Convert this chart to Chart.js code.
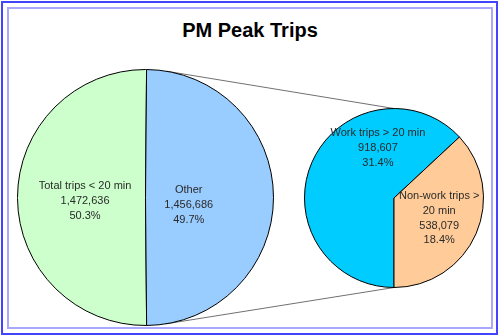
<!DOCTYPE html>
<html>
<head>
<meta charset="utf-8">
<script src="https://cdn.jsdelivr.net/npm/chart.js@4"></script>
<style>
  body { margin: 0; background: #fff; }
  #wrap { position: relative; width: 500px; height: 336px; overflow: hidden; }
  #outer { position: absolute; left: 1px; top: 1px; width: 493px; height: 330px; border: 2px solid #4444ff; }
  #inner { position: absolute; left: 7px; top: 7px; width: 482px; height: 318px; border: 2px solid #a8a8ff; }
  #title { position: absolute; left: 0; top: 19px; width: 500px; text-align: center;
           font: bold 20px "Liberation Sans", Arial, sans-serif; line-height: 22px; color: #000; }
  canvas { position: absolute; }
  #lines { left: 0; top: 0; }
  #bigPie { left: 17px; top: 69px; }
  #smallPie { left: 304px; top: 108px; }
</style>
</head>
<body>
<div id="wrap">
  <div id="outer"></div>
  <div id="inner"></div>
  <div id="title">PM Peak Trips</div>
  <canvas id="lines" width="500" height="336"></canvas>
  <canvas id="bigPie" width="257" height="257"></canvas>
  <canvas id="smallPie" width="180" height="180"></canvas>
</div>
<script>
// data
const mainLabels = ['Total trips < 20 min', 'Other'];
const mainValues = [1472636, 1456686];
const mainColors = ['#ccffcc', '#99ccff'];

const splitLabels = [['Work trips > 20 min'], ['Non-work trips >', '20 min']];
const splitValues = [918607, 538079];
const splitColors = ['#00ccff', '#ffcc99'];

const grandTotal = mainValues.reduce((a, b) => a + b, 0);

function labelLines(name, v) {
    return name.concat([v.toLocaleString('en-US'), (v / grandTotal * 100).toFixed(1) + '%']);
}

// writes the label block inside each slice, place = [angle from top, fraction of radius]
const sliceText = {
    id: 'sliceText',
    afterDatasetsDraw(chart, args, opts) {
        const ctx = chart.ctx;
        const meta = chart.getDatasetMeta(0);
        ctx.save();
        ctx.font = '11px "Liberation Sans", Arial, sans-serif';
        ctx.fillStyle = '#2a2a2a';
        ctx.textAlign = 'center';
        ctx.textBaseline = 'middle';
        meta.data.forEach((arc, i) => {
            const a = (opts.place[i][0] - 90) * Math.PI / 180;
            const x = arc.x + Math.cos(a) * arc.outerRadius * opts.place[i][1];
            const y = arc.y + Math.sin(a) * arc.outerRadius * opts.place[i][1];
            const lines = opts.lines[i];
            lines.forEach((t, k) => {
                ctx.fillText(t, x, y + (k - (lines.length - 1) / 2) * 14.8);
            });
        });
        ctx.restore();
    }
};

function pieOptions(rotation, place, lines) {
    return {
        responsive: false,
        animation: false,
        rotation: rotation,
        layout: { padding: 0 },
        plugins: {
            legend: { display: false },
            tooltip: { enabled: false },
            sliceText: { place: place, lines: lines }
        }
    };
}

const bigChart = new Chart(document.getElementById('bigPie'), {
    type: 'pie',
    data: {
        labels: mainLabels,
        datasets: [{
            data: mainValues,
            backgroundColor: mainColors,
            borderColor: '#000',
            borderWidth: 1
        }]
    },
    options: pieOptions(179.5, [[266.7, 0.473], [99.9, 0.343]],
        mainLabels.map((n, i) => labelLines([n], mainValues[i]))),
    plugins: [sliceText]
});

const smallChart = new Chart(document.getElementById('smallPie'), {
    type: 'pie',
    data: {
        labels: splitLabels,
        datasets: [{
            data: splitValues,
            backgroundColor: splitColors,
            borderColor: '#000',
            borderWidth: 1
        }]
    },
    options: pieOptions(180, [[342.1, 0.585], [114, 0.553]],
        splitLabels.map((n, i) => labelLines(n, splitValues[i]))),
    plugins: [sliceText]
});

// connector lines from the big pie to the top and bottom of the small pie
function arcOnPage(chart) {
    const arc = chart.getDatasetMeta(0).data[0];
    const c = chart.canvas;
    return { x: c.offsetLeft + arc.x, y: c.offsetTop + arc.y, r: arc.outerRadius };
}

const big = arcOnPage(bigChart);
const small = arcOnPage(smallChart);
const lctx = document.getElementById('lines').getContext('2d');
lctx.strokeStyle = '#707070';
lctx.lineWidth = 1;

[-1, 1].forEach(side => {
    const px = small.x, py = small.y + side * small.r;
    const d = Math.hypot(px - big.x, py - big.y);
    const phi = Math.atan2(py - big.y, px - big.x);
    const a = phi + side * Math.acos(big.r / d);
    lctx.beginPath();
    lctx.moveTo(big.x + big.r * Math.cos(a), big.y + big.r * Math.sin(a));
    lctx.lineTo(px, py);
    lctx.stroke();
});
</script>
</body>
</html>
